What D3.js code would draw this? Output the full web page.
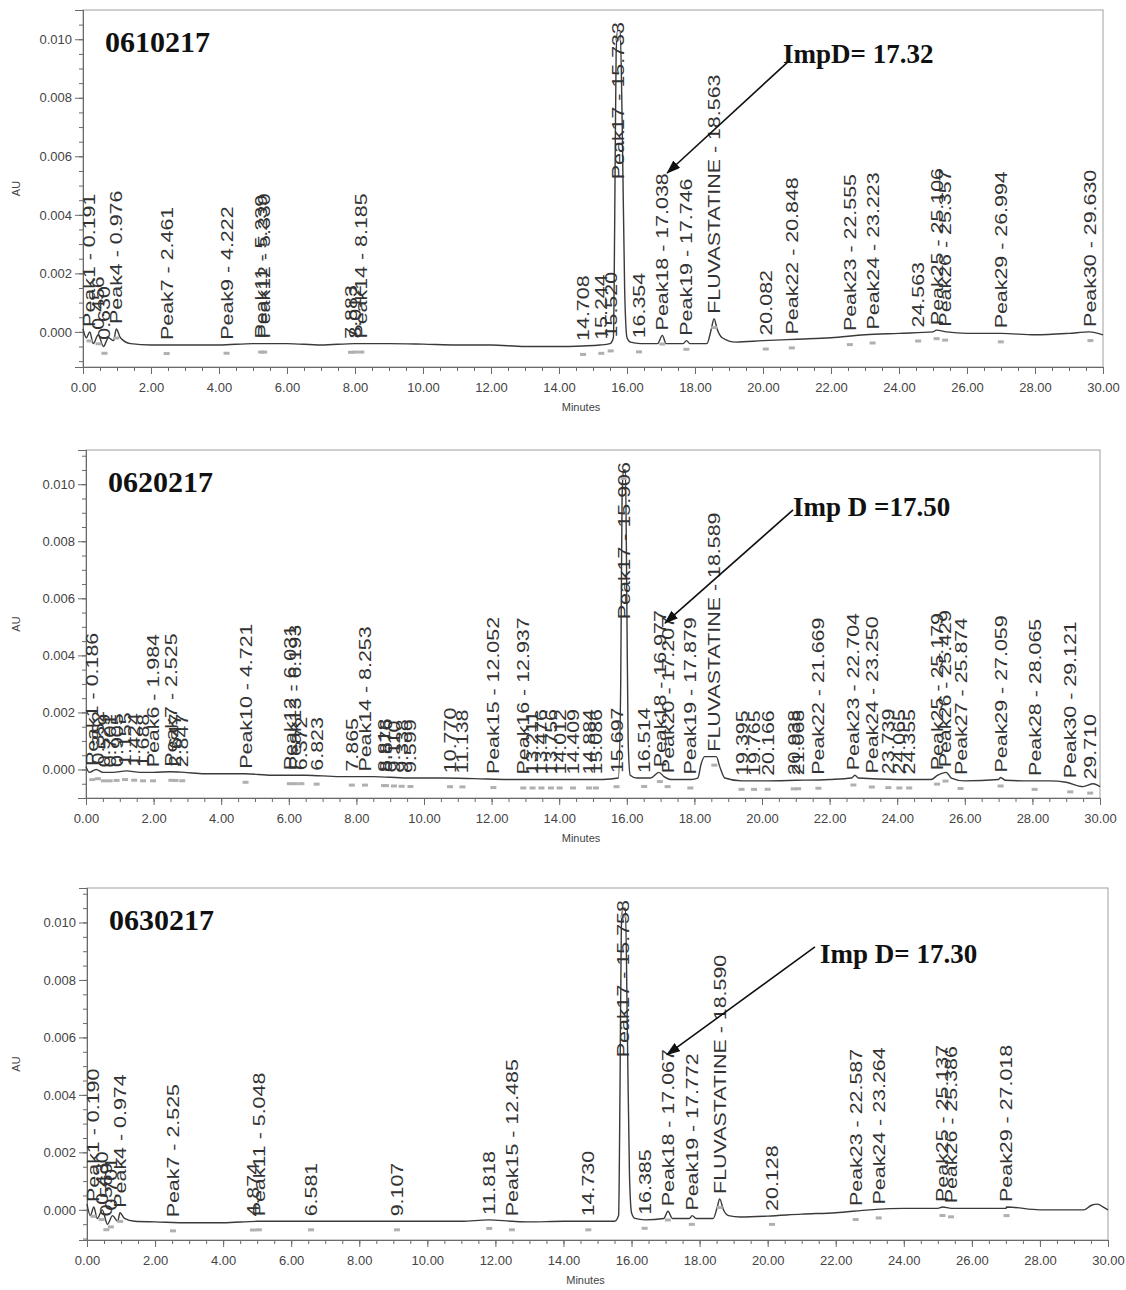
<!DOCTYPE html>
<html>
<head>
<meta charset="utf-8">
<script src="https://cdn.jsdelivr.net/npm/d3@7"></script>
<style>
  body { margin: 0; background: #fff; }
  svg { display: block; }
</style>
</head>
<body>
<div id="chart"></div>
<script>
// ---- data ----
const xTicks = d3.range(0, 30.01, 2);
const xMinor = d3.range(0, 30.01, 0.5);
const yTicks = [0, 0.002, 0.004, 0.006, 0.008, 0.010];
const yMinor = d3.range(-0.001, 0.0111, 0.0005);

const sampleIds = ["0610217", "0620217", "0630217"];
const impLabels = ["ImpD= 17.32", "Imp D =17.50", "Imp D= 17.30"];

// [minutes, AU]
const trace1 = [[0,0.0001],[0.1,-0.0002],[0.2,0.0000],[0.3,-0.0004],[0.45,-0.0001],[0.6,-0.0005],[0.75,-0.0002],[0.9,-0.0003],[0.98,0.0001],[1.1,-0.0002],[1.4,-0.0004],[2,-0.00045],[3,-0.00045],[4,-0.00045],[5,-0.0004],[6,-0.0004],[7,-0.00045],[8,-0.0004],[9,-0.0004],[10,-0.00042],[11,-0.00045],[12,-0.00045],[13,-0.0005],[14,-0.0005],[14.7,-0.00048],[15.2,-0.00045],[15.5,-0.0004],[15.6,-0.0002],[15.64,0.004],[15.68,0.0095],[15.72,0.0103],[15.8,0.0103],[15.86,0.007],[15.93,0.0015],[16.0,-0.0002],[16.1,-0.00035],[16.4,-0.0004],[16.9,-0.0004],[17.04,-0.00012],[17.15,-0.0004],[17.65,-0.0004],[17.75,-0.0003],[17.85,-0.0004],[18.35,-0.0004],[18.48,0.0001],[18.56,0.00045],[18.65,0.0001],[18.8,-0.0002],[19.2,-0.00035],[20,-0.0003],[21,-0.00025],[22,-0.0002],[23,-0.0001],[24,-0.00005],[25,0.0000],[25.1,0.00006],[25.4,0.0000],[26,-0.00005],[27,-0.00005],[28,-0.0001],[29,-0.00005],[29.6,0.0000],[30,-0.0001]];
const trace2 = [[0,0.0001],[0.1,-0.0001],[0.3,0.0000],[0.5,-0.0001],[0.8,-0.0001],[1.2,-0.00005],[1.6,-0.0001],[2,-0.0001],[2.5,-0.00008],[2.9,-0.0001],[3.5,-0.00015],[4.7,-0.00015],[5.5,-0.0002],[6.5,-0.0002],[7.5,-0.00025],[8.5,-0.00025],[9.5,-0.0003],[10.5,-0.0003],[11.5,-0.00032],[12.5,-0.00035],[13.5,-0.00035],[14.5,-0.00035],[15.3,-0.00035],[15.75,-0.0003],[15.82,0.003],[15.86,0.0095],[15.9,0.0105],[15.96,0.0105],[16.0,0.006],[16.04,0.001],[16.1,-0.0002],[16.3,-0.0003],[16.7,-0.0003],[16.95,-0.0001],[17.1,-0.00025],[17.3,-0.00035],[17.9,-0.00035],[18.1,-0.0003],[18.2,0.0002],[18.3,0.00045],[18.65,0.00045],[18.75,0.0001],[18.9,-0.0003],[19.4,-0.0004],[20,-0.0004],[21,-0.00038],[22,-0.00035],[22.65,-0.0003],[22.75,-0.0002],[22.85,-0.0003],[24,-0.00035],[25,-0.00035],[25.2,-0.0002],[25.45,-0.0001],[25.6,-0.0003],[26,-0.0004],[27,-0.00035],[27.06,-0.00028],[27.2,-0.00038],[28,-0.0004],[28.5,-0.0004],[29,-0.00045],[29.5,-0.0006],[29.8,-0.0005],[30,-0.0006]];
const trace3 = [[0,0.0002],[0.1,-0.0002],[0.2,0.0001],[0.3,-0.0003],[0.45,0.0000],[0.6,-0.0005],[0.75,-0.0002],[0.9,-0.0004],[0.97,-0.0001],[1.1,-0.0003],[1.4,-0.0004],[2,-0.00042],[3,-0.00045],[4,-0.00045],[5,-0.0004],[6,-0.0004],[7,-0.0004],[8,-0.0004],[9,-0.0004],[10,-0.0004],[11,-0.0004],[11.8,-0.00035],[12.5,-0.0004],[13,-0.00042],[14,-0.0004],[14.7,-0.0004],[15.5,-0.0004],[15.62,-0.0002],[15.66,0.004],[15.7,0.0098],[15.74,0.0105],[15.82,0.0105],[15.88,0.006],[15.94,0.0012],[16.0,-0.0001],[16.1,-0.0003],[16.4,-0.00035],[16.95,-0.0003],[17.07,-0.00005],[17.2,-0.0003],[17.7,-0.0003],[17.78,-0.0002],[17.9,-0.0003],[18.4,-0.0003],[18.52,0.0001],[18.59,0.00038],[18.7,0.0000],[18.85,-0.0002],[19.2,-0.00025],[20,-0.00022],[21,-0.00015],[22,-0.0001],[23,0.0000],[24,0.00005],[25,0.00005],[25.14,0.0001],[25.4,0.00005],[26,0.00005],[27,0.00005],[27.02,0.0001],[28,0.0000],[29,0.0000],[29.3,0.0000],[29.5,0.00015],[29.7,0.0002],[29.85,0.0001],[30,0.0000]];

// peak labels; retention time is the last number of each label
const peaks1 = ["Peak1 - 0.191","0.456","0.630","Peak4 - 0.976","Peak7 - 2.461","Peak9 - 4.222","Peak11 - 5.239","Peak12 - 5.330","7.883","8.012","Peak14 - 8.185","14.708","15.244","15.520","Peak17 - 15.733","16.354","Peak18 - 17.038","Peak19 - 17.746","FLUVASTATINE - 18.563","20.082","Peak22 - 20.848","Peak23 - 22.555","Peak24 - 23.223","24.563","Peak25 - 25.106","Peak26 - 25.357","Peak29 - 26.994","Peak30 - 29.630"];
const peaks2 = ["Peak1 - 0.186","0.352","0.529","0.701","0.905","1.155","1.424","1.688","Peak6 - 1.984","Peak7 - 2.525","2.647","2.847","Peak10 - 4.721","Peak12 - 6.031","Peak13 - 6.193","6.372","6.823","7.865","Peak14 - 8.253","8.818","8.876","9.110","9.338","9.599","10.770","11.138","Peak15 - 12.052","Peak16 - 12.937","13.211","13.476","13.756","14.012","14.409","14.884","15.086","15.697","Peak17 - 15.906","16.514","Peak18 - 16.977","Peak20 - 17.207","Peak19 - 17.879","FLUVASTATINE - 18.589","19.395","19.765","20.166","20.938","21.068","Peak22 - 21.669","Peak23 - 22.704","Peak24 - 23.250","23.739","24.065","24.355","Peak25 - 25.179","Peak26 - 25.429","Peak27 - 25.874","Peak29 - 27.059","Peak28 - 28.065","Peak30 - 29.121","29.710"];
const peaks3 = ["Peak1 - 0.190","0.430","0.569","0.701","Peak4 - 0.974","Peak7 - 2.525","4.874","Peak11 - 5.048","6.581","9.107","11.818","Peak15 - 12.485","14.730","Peak17 - 15.758","16.385","Peak18 - 17.067","Peak19 - 17.772","FLUVASTATINE - 18.590","20.128","Peak23 - 22.587","Peak24 - 23.264","Peak25 - 25.137","Peak26 - 25.386","Peak29 - 27.018"];

// Imp D callouts: [text minutes, text AU, tail minutes, tail AU, tip minutes, tip AU]
const callouts = [
  [20.59, 0.00919, 20.79, 0.00929, 17.18, 0.00543],
  [20.92, 0.00889, 20.92, 0.00910, 17.13, 0.00513],
  [21.54, 0.00859, 21.39, 0.00915, 17.04, 0.00540]
];

// ---- layout ----
const width = 1126, height = 1290;
const panels = [
  { id: sampleIds[0], trace: trace1, peaks: peaks1, imp: impLabels[0], call: callouts[0],
    box: { left: 83, right: 1103, top: 10, bottom: 367 }, yDomain: [-0.0012, 0.011] },
  { id: sampleIds[1], trace: trace2, peaks: peaks2, imp: impLabels[1], call: callouts[1],
    box: { left: 86, right: 1100, top: 450, bottom: 798 }, yDomain: [-0.001, 0.0112] },
  { id: sampleIds[2], trace: trace3, peaks: peaks3, imp: impLabels[2], call: callouts[2],
    box: { left: 87, right: 1108, top: 888, bottom: 1240 }, yDomain: [-0.00105, 0.0112] }
];

const svg = d3.select("#chart")
  .append("svg")
  .attr("width", width)
  .attr("height", height)
  .style("font-family", "'Liberation Sans', Arial, sans-serif");

svg.append("defs").append("marker")
  .attr("id", "arrowhead")
  .attr("viewBox", "0 0 14 10")
  .attr("refX", 13).attr("refY", 5)
  .attr("markerWidth", 14).attr("markerHeight", 10)
  .attr("markerUnits", "userSpaceOnUse")
  .attr("orient", "auto")
  .append("path")
  .attr("d", "M0,0 L14,5 L0,10 Z")
  .attr("fill", "#111");

function interp(trace, t) {
  for (let i = 1; i < trace.length; i++) {
    if (trace[i][0] >= t) {
      const a = trace[i - 1], b = trace[i];
      return a[1] + (b[1] - a[1]) * (t - a[0]) / (b[0] - a[0]);
    }
  }
  return trace[trace.length - 1][1];
}

function localMax(trace, t, w) {
  let m = interp(trace, t);
  trace.forEach(d => { if (Math.abs(d[0] - t) <= w) m = Math.max(m, d[1]); });
  return m;
}

function styleAxis(sel) {
  sel.select(".domain").attr("stroke", "#6a6a6a");
  sel.selectAll(".tick line").attr("stroke", "#6a6a6a");
  sel.selectAll(".tick text").attr("fill", "#444").style("font-size", "13px");
}

function drawPanel(p) {
  const { left, right, top, bottom } = p.box;
  const x = d3.scaleLinear().domain([0, 30]).range([left, right]);
  const y = d3.scaleLinear().domain(p.yDomain).range([bottom, top]);
  const g = svg.append("g");

  // frame
  g.append("rect")
    .attr("x", left).attr("y", top)
    .attr("width", right - left).attr("height", bottom - top)
    .attr("fill", "none")
    .attr("stroke", "#a0a0a0");

  // X axis
  g.append("g")
    .attr("transform", `translate(0,${bottom})`)
    .call(d3.axisBottom(x).tickValues(xMinor).tickSize(4).tickFormat(""))
    .call(styleAxis);
  g.append("g")
    .attr("transform", `translate(0,${bottom})`)
    .call(d3.axisBottom(x).tickValues(xTicks).tickSize(7).tickPadding(9).tickFormat(d3.format(".2f")))
    .call(styleAxis);

  // Y axis
  g.append("g")
    .attr("transform", `translate(${left},0)`)
    .call(d3.axisLeft(y).tickValues(yMinor).tickSize(4).tickFormat(""))
    .call(styleAxis);
  g.append("g")
    .attr("transform", `translate(${left},0)`)
    .call(d3.axisLeft(y).tickValues(yTicks).tickSize(8).tickPadding(3).tickFormat(d3.format(".3f")))
    .call(styleAxis);

  // axis titles
  g.append("text")
    .attr("transform", `translate(20,${(top + bottom) / 2}) rotate(-90)`)
    .attr("text-anchor", "middle")
    .attr("fill", "#444")
    .style("font-size", "11px")
    .text("AU");
  g.append("text")
    .attr("x", (left + right) / 2 - 12)
    .attr("y", bottom + 44)
    .attr("text-anchor", "middle")
    .attr("fill", "#444")
    .style("font-size", "11px")
    .text("Minutes");

  // trace
  const line = d3.line()
    .x(d => x(d[0]))
    .y(d => y(d[1]))
    .curve(d3.curveMonotoneX);

  g.append("path")
    .datum(p.trace)
    .attr("fill", "none")
    .attr("stroke", "#3a3a3a")
    .attr("stroke-width", 1.4)
    .attr("d", line);

  // integration marks under each peak
  const peaks = p.peaks.map(s => ({ label: s, t: +s.split(" ").pop() }));
  g.selectAll(".mark")
    .data(peaks)
    .enter()
    .append("rect")
    .attr("x", d => x(d.t) - 3)
    .attr("y", d => y(interp(p.trace, d.t)) + 7)
    .attr("width", 6)
    .attr("height", 3)
    .attr("fill", "#b0b0b0");

  // rotated peak labels
  const sx = 1.26;
  g.selectAll(".peak-label")
    .data(peaks)
    .enter()
    .append("text")
    .attr("class", "peak-label")
    .attr("dy", "0.35em")
    .attr("fill", "#333")
    .style("font-size", "17px")
    .text(d => d.label)
    .each(function (d) {
      const len = this.getComputedTextLength() * sx;
      let y0 = y(localMax(p.trace, d.t, 0.08)) - 5;
      if (y0 - len < top + 12) y0 = top + 12 + len;
      d3.select(this).attr("transform", `translate(${x(d.t)},${y0}) rotate(-90) scale(${sx},1)`);
    });

  // sample id
  g.append("text")
    .attr("x", left + 22)
    .attr("y", top + 42)
    .attr("fill", "#111")
    .style("font-family", "'Liberation Serif', 'Times New Roman', serif")
    .style("font-weight", "bold")
    .style("font-size", "30px")
    .text(p.id);

  // Imp D callout
  const c = p.call;
  g.append("line")
    .attr("x1", x(c[2])).attr("y1", y(c[3]))
    .attr("x2", x(c[4])).attr("y2", y(c[5]))
    .attr("stroke", "#111")
    .attr("stroke-width", 1.6)
    .attr("marker-end", "url(#arrowhead)");
  g.append("text")
    .attr("x", x(c[0]))
    .attr("y", y(c[1]))
    .attr("fill", "#111")
    .style("font-family", "'Liberation Serif', 'Times New Roman', serif")
    .style("font-weight", "bold")
    .style("font-size", "27px")
    .text(p.imp);
}

panels.forEach(drawPanel);
</script>
</body>
</html>
